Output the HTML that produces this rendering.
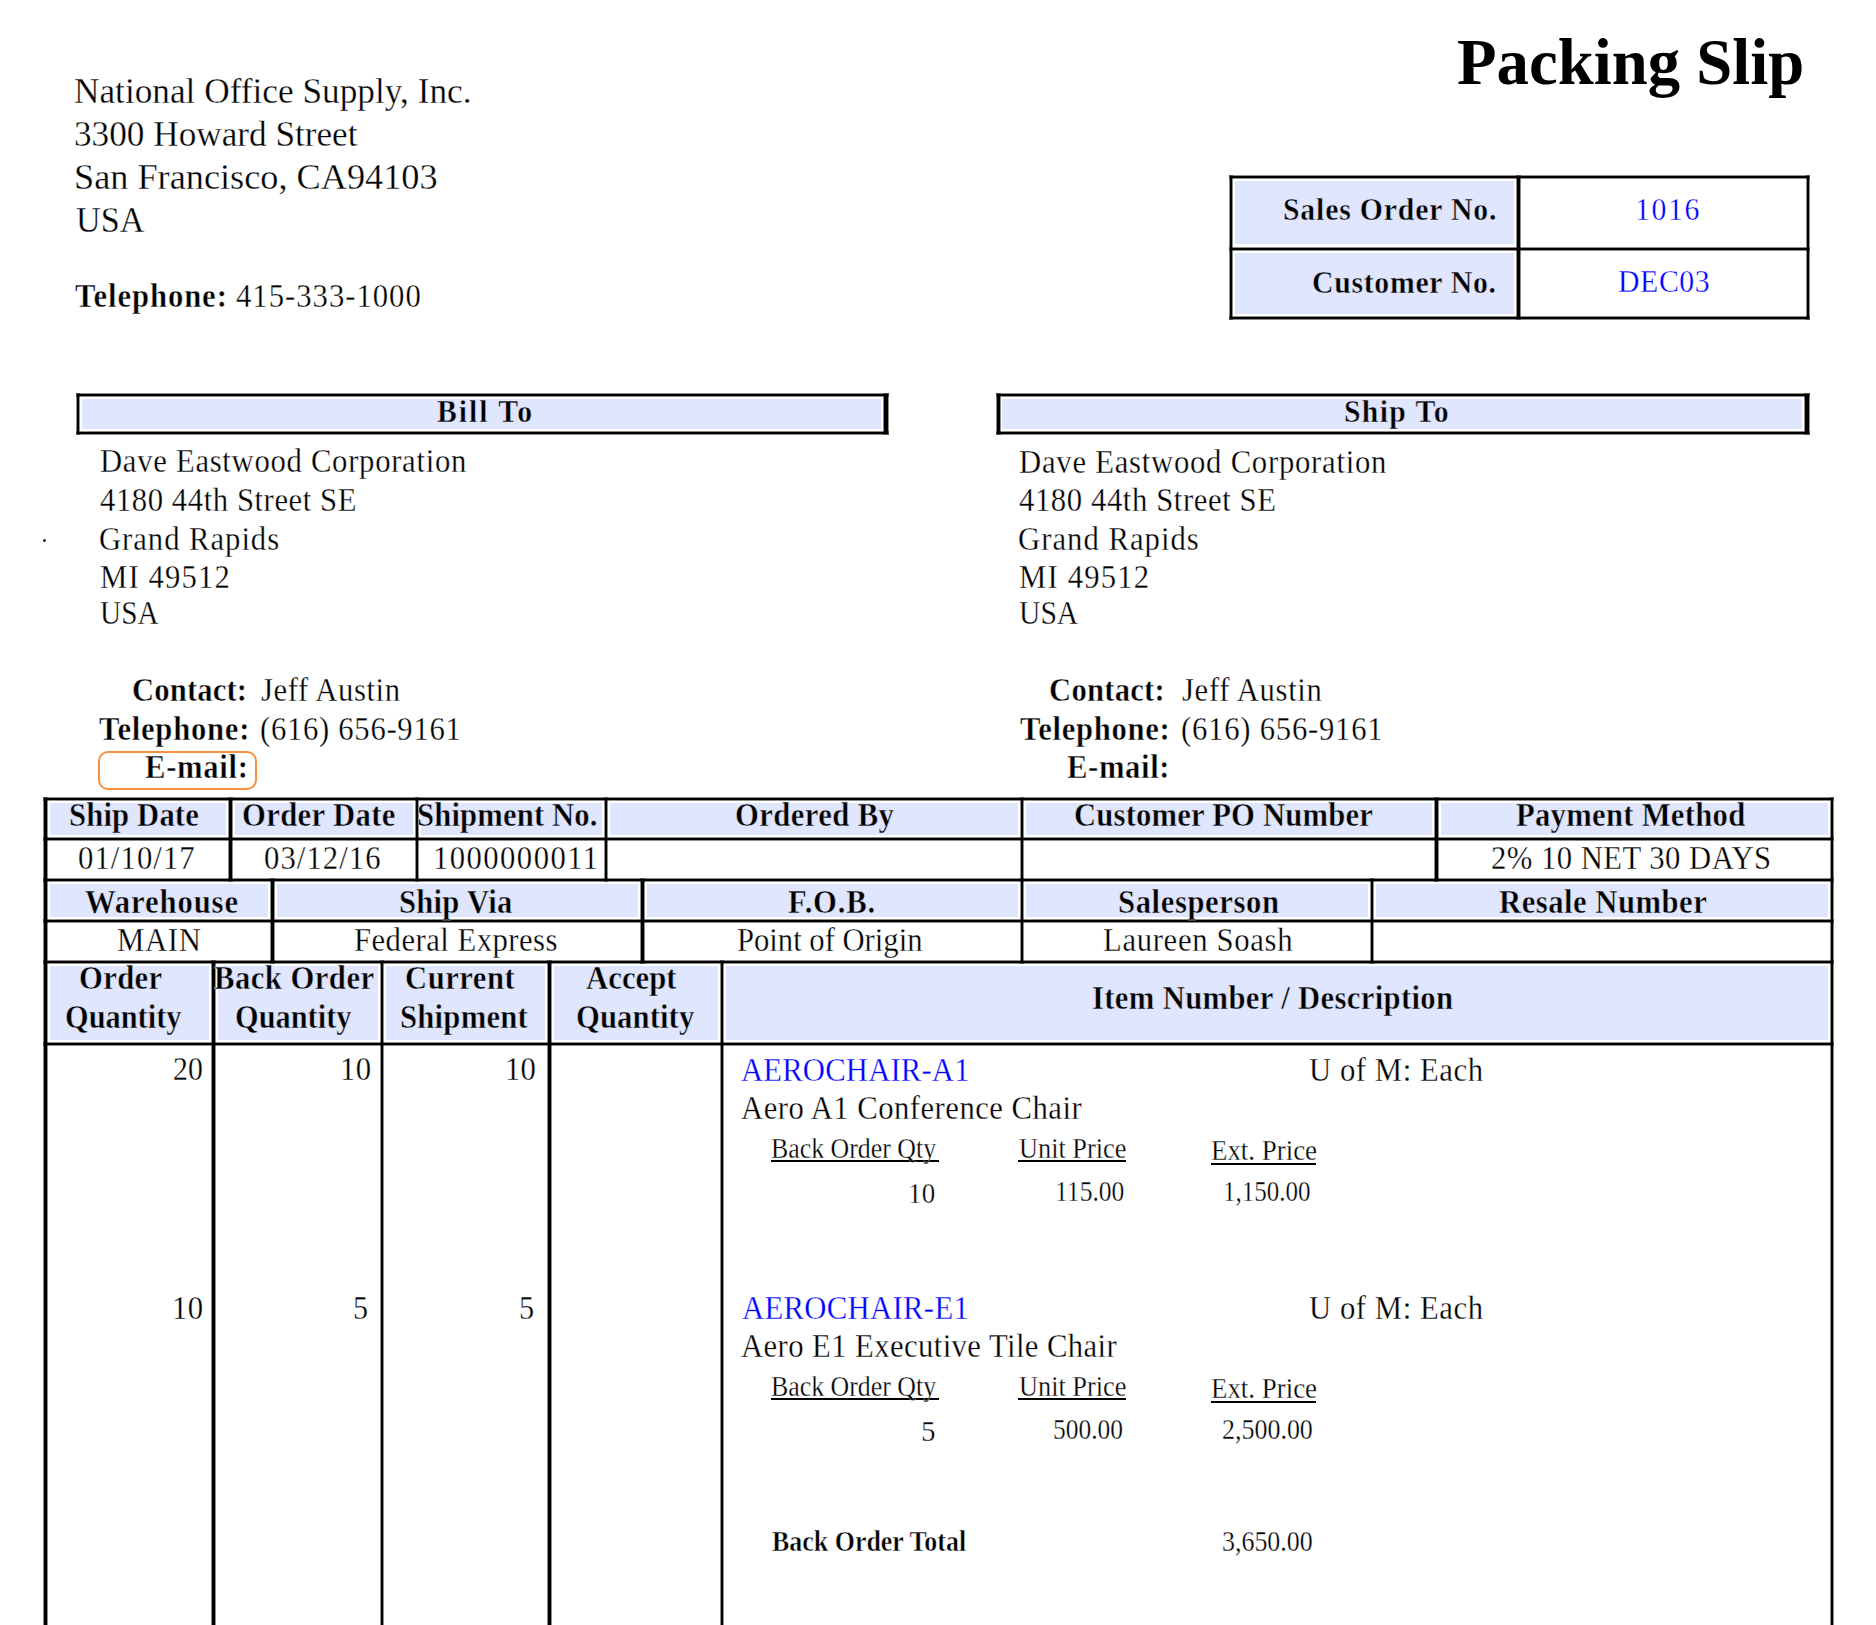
<!DOCTYPE html>
<html><head><meta charset="utf-8"><style>
html,body{margin:0;padding:0;background:#fff;}
body{width:1876px;height:1625px;position:relative;overflow:hidden;font-family:"Liberation Serif",serif;color:#000;}
.r{position:absolute;}
.t{position:absolute;white-space:pre;line-height:0;transform-origin:0 0;}
</style></head><body>
<div class="r" style="left:1235px;top:181px;width:279px;height:63px;background:#e0e6fe"></div>
<div class="r" style="left:1235px;top:253px;width:279px;height:61px;background:#e0e6fe"></div>
<div class="r" style="left:82px;top:399px;width:799px;height:30px;background:#e0e6fe"></div>
<div class="r" style="left:1002px;top:399px;width:800px;height:30px;background:#e0e6fe"></div>
<div class="r" style="left:50px;top:803px;width:176px;height:32px;background:#e0e6fe"></div>
<div class="r" style="left:235px;top:803px;width:178px;height:32px;background:#e0e6fe"></div>
<div class="r" style="left:421px;top:803px;width:181px;height:32px;background:#e0e6fe"></div>
<div class="r" style="left:610px;top:803px;width:408px;height:32px;background:#e0e6fe"></div>
<div class="r" style="left:1026px;top:803px;width:406px;height:32px;background:#e0e6fe"></div>
<div class="r" style="left:1441px;top:803px;width:387px;height:32px;background:#e0e6fe"></div>
<div class="r" style="left:50px;top:884px;width:218px;height:33px;background:#e0e6fe"></div>
<div class="r" style="left:277px;top:884px;width:361px;height:33px;background:#e0e6fe"></div>
<div class="r" style="left:647px;top:884px;width:371px;height:33px;background:#e0e6fe"></div>
<div class="r" style="left:1026px;top:884px;width:342px;height:33px;background:#e0e6fe"></div>
<div class="r" style="left:1376px;top:884px;width:452px;height:33px;background:#e0e6fe"></div>
<div class="r" style="left:50px;top:966px;width:159px;height:74px;background:#e0e6fe"></div>
<div class="r" style="left:218px;top:966px;width:160px;height:74px;background:#e0e6fe"></div>
<div class="r" style="left:386px;top:966px;width:159px;height:74px;background:#e0e6fe"></div>
<div class="r" style="left:554px;top:966px;width:164px;height:74px;background:#e0e6fe"></div>
<div class="r" style="left:726px;top:966px;width:1102px;height:74px;background:#e0e6fe"></div>
<div class="r" style="left:1230px;top:176px;width:579px;height:2px;background:#000;box-shadow:0 0 0 1px rgba(0,0,0,.45)"></div>
<div class="r" style="left:1230px;top:248px;width:579px;height:2px;background:#000;box-shadow:0 0 0 1px rgba(0,0,0,.45)"></div>
<div class="r" style="left:1230px;top:317px;width:579px;height:2px;background:#000;box-shadow:0 0 0 1px rgba(0,0,0,.45)"></div>
<div class="r" style="left:1230px;top:176px;width:2px;height:143px;background:#000;box-shadow:0 0 0 1px rgba(0,0,0,.45)"></div>
<div class="r" style="left:1517px;top:176px;width:3px;height:143px;background:#000;box-shadow:0 0 0 1px rgba(0,0,0,.45)"></div>
<div class="r" style="left:1807px;top:176px;width:2px;height:143px;background:#000;box-shadow:0 0 0 1px rgba(0,0,0,.45)"></div>
<div class="r" style="left:77px;top:394px;width:2px;height:40px;background:#000;box-shadow:0 0 0 1px rgba(0,0,0,.45)"></div>
<div class="r" style="left:77px;top:394px;width:811px;height:2px;background:#000;box-shadow:0 0 0 1px rgba(0,0,0,.45)"></div>
<div class="r" style="left:77px;top:432px;width:811px;height:2px;background:#000;box-shadow:0 0 0 1px rgba(0,0,0,.45)"></div>
<div class="r" style="left:884px;top:394px;width:4px;height:40px;background:#000;box-shadow:0 0 0 1px rgba(0,0,0,.45)"></div>
<div class="r" style="left:997px;top:394px;width:3px;height:40px;background:#000;box-shadow:0 0 0 1px rgba(0,0,0,.45)"></div>
<div class="r" style="left:997px;top:394px;width:812px;height:2px;background:#000;box-shadow:0 0 0 1px rgba(0,0,0,.45)"></div>
<div class="r" style="left:997px;top:432px;width:812px;height:2px;background:#000;box-shadow:0 0 0 1px rgba(0,0,0,.45)"></div>
<div class="r" style="left:1805px;top:394px;width:4px;height:40px;background:#000;box-shadow:0 0 0 1px rgba(0,0,0,.45)"></div>
<div class="r" style="left:44px;top:798px;width:1789px;height:2px;background:#000;box-shadow:0 0 0 1px rgba(0,0,0,.45)"></div>
<div class="r" style="left:44px;top:838px;width:1789px;height:2px;background:#000;box-shadow:0 0 0 1px rgba(0,0,0,.45)"></div>
<div class="r" style="left:44px;top:879px;width:1789px;height:2px;background:#000;box-shadow:0 0 0 1px rgba(0,0,0,.45)"></div>
<div class="r" style="left:44px;top:920px;width:1789px;height:2px;background:#000;box-shadow:0 0 0 1px rgba(0,0,0,.45)"></div>
<div class="r" style="left:44px;top:961px;width:1789px;height:2px;background:#000;box-shadow:0 0 0 1px rgba(0,0,0,.45)"></div>
<div class="r" style="left:44px;top:1043px;width:1789px;height:2px;background:#000;box-shadow:0 0 0 1px rgba(0,0,0,.45)"></div>
<div class="r" style="left:44px;top:798px;width:3px;height:830px;background:#000;box-shadow:0 0 0 1px rgba(0,0,0,.45)"></div>
<div class="r" style="left:1831px;top:798px;width:2px;height:830px;background:#000;box-shadow:0 0 0 1px rgba(0,0,0,.45)"></div>
<div class="r" style="left:229px;top:798px;width:3px;height:83px;background:#000;box-shadow:0 0 0 1px rgba(0,0,0,.45)"></div>
<div class="r" style="left:416px;top:798px;width:2px;height:83px;background:#000;box-shadow:0 0 0 1px rgba(0,0,0,.45)"></div>
<div class="r" style="left:605px;top:798px;width:2px;height:83px;background:#000;box-shadow:0 0 0 1px rgba(0,0,0,.45)"></div>
<div class="r" style="left:1021px;top:798px;width:2px;height:83px;background:#000;box-shadow:0 0 0 1px rgba(0,0,0,.45)"></div>
<div class="r" style="left:1435px;top:798px;width:3px;height:83px;background:#000;box-shadow:0 0 0 1px rgba(0,0,0,.45)"></div>
<div class="r" style="left:271px;top:879px;width:3px;height:84px;background:#000;box-shadow:0 0 0 1px rgba(0,0,0,.45)"></div>
<div class="r" style="left:641px;top:879px;width:3px;height:84px;background:#000;box-shadow:0 0 0 1px rgba(0,0,0,.45)"></div>
<div class="r" style="left:1021px;top:879px;width:2px;height:84px;background:#000;box-shadow:0 0 0 1px rgba(0,0,0,.45)"></div>
<div class="r" style="left:1371px;top:879px;width:2px;height:84px;background:#000;box-shadow:0 0 0 1px rgba(0,0,0,.45)"></div>
<div class="r" style="left:212px;top:961px;width:3px;height:670px;background:#000;box-shadow:0 0 0 1px rgba(0,0,0,.45)"></div>
<div class="r" style="left:381px;top:961px;width:2px;height:670px;background:#000;box-shadow:0 0 0 1px rgba(0,0,0,.45)"></div>
<div class="r" style="left:548px;top:961px;width:3px;height:670px;background:#000;box-shadow:0 0 0 1px rgba(0,0,0,.45)"></div>
<div class="r" style="left:721px;top:961px;width:2px;height:670px;background:#000;box-shadow:0 0 0 1px rgba(0,0,0,.45)"></div>
<div class="r" style="left:771px;top:1160px;width:168px;height:2px;background:#000"></div>
<div class="r" style="left:1018px;top:1160px;width:108px;height:2px;background:#000"></div>
<div class="r" style="left:1211px;top:1163px;width:105px;height:2px;background:#000"></div>
<div class="r" style="left:771px;top:1398px;width:168px;height:2px;background:#000"></div>
<div class="r" style="left:1018px;top:1398px;width:108px;height:2px;background:#000"></div>
<div class="r" style="left:1211px;top:1401px;width:105px;height:2px;background:#000"></div>
<div style="position:absolute;left:98px;top:751px;width:155px;height:35px;border:2px solid #f8913f;border-radius:10px"></div>
<div style="position:absolute;left:43px;top:539px;width:3px;height:3px;border-radius:50%;background:#222"></div>
<div class="t" style="left:74.39px;top:92px;font-size:35px;-webkit-text-stroke:0.3px #fff;transform:scaleX(1.0072);">National Office Supply, Inc.</div>
<div class="t" style="left:74.39px;top:135px;font-size:35px;-webkit-text-stroke:0.3px #fff;transform:scaleX(1.0058);">3300 Howard Street</div>
<div class="t" style="left:73.93px;top:178px;font-size:35px;-webkit-text-stroke:0.3px #fff;transform:scaleX(1.0360);">San Francisco, CA94103</div>
<div class="t" style="left:76.00px;top:221px;font-size:35px;-webkit-text-stroke:0.3px #fff;transform:scaleX(0.9754);">USA</div>
<div class="t" style="left:74.50px;top:296px;font-size:33px;font-weight:bold;-webkit-text-stroke:0.45px #fff;letter-spacing:0.960px;transform:scaleX(0.9300);">Telephone:</div>
<div class="t" style="left:235.70px;top:296px;font-size:33px;-webkit-text-stroke:0.3px #fff;letter-spacing:1.063px;transform:scaleX(0.9300);">415-333-1000</div>
<div class="t" style="left:1457.12px;top:62px;font-size:66px;font-weight:bold;transform:scaleX(0.9808);">Packing Slip</div>
<div class="t" style="left:1282.57px;top:209px;font-size:32px;font-weight:bold;-webkit-text-stroke:0.45px #e0e6fe;letter-spacing:0.880px;transform:scaleX(0.9300);">Sales Order No.</div>
<div class="t" style="left:1634.74px;top:209px;font-size:32px;color:#0000ff;-webkit-text-stroke:0.3px #fff;letter-spacing:1.699px;transform:scaleX(0.9300);">1016</div>
<div class="t" style="left:1311.97px;top:282px;font-size:32px;font-weight:bold;-webkit-text-stroke:0.45px #e0e6fe;letter-spacing:0.751px;transform:scaleX(0.9300);">Customer No.</div>
<div class="t" style="left:1618.20px;top:281px;font-size:32px;color:#0000ff;-webkit-text-stroke:0.3px #fff;letter-spacing:0.659px;transform:scaleX(0.9300);">DEC03</div>
<div class="t" style="left:436.80px;top:411px;font-size:32px;font-weight:bold;-webkit-text-stroke:0.45px #e0e6fe;letter-spacing:2.086px;transform:scaleX(0.9300);">Bill To</div>
<div class="t" style="left:1344.37px;top:411px;font-size:32px;font-weight:bold;-webkit-text-stroke:0.45px #e0e6fe;letter-spacing:1.416px;transform:scaleX(0.9300);">Ship To</div>
<div class="t" style="left:99.60px;top:461px;font-size:33px;-webkit-text-stroke:0.3px #fff;letter-spacing:0.754px;transform:scaleX(0.9300);">Dave Eastwood Corporation</div>
<div class="t" style="left:99.60px;top:500px;font-size:33px;-webkit-text-stroke:0.3px #fff;letter-spacing:0.604px;transform:scaleX(0.9300);">4180 44th Street SE</div>
<div class="t" style="left:98.67px;top:539px;font-size:33px;-webkit-text-stroke:0.3px #fff;letter-spacing:1.026px;transform:scaleX(0.9300);">Grand Rapids</div>
<div class="t" style="left:99.60px;top:577px;font-size:33px;-webkit-text-stroke:0.3px #fff;letter-spacing:1.212px;transform:scaleX(0.9300);">MI 49512</div>
<div class="t" style="left:99.60px;top:613px;font-size:33px;-webkit-text-stroke:0.3px #fff;letter-spacing:0.000px;transform:scaleX(0.8869);">USA</div>
<div class="t" style="left:131.67px;top:690px;font-size:33px;font-weight:bold;-webkit-text-stroke:0.45px #fff;letter-spacing:0.135px;transform:scaleX(0.9300);">Contact:</div>
<div class="t" style="left:260.50px;top:690px;font-size:33px;-webkit-text-stroke:0.3px #fff;letter-spacing:0.623px;transform:scaleX(0.9300);">Jeff Austin</div>
<div class="t" style="left:99.40px;top:729px;font-size:33px;font-weight:bold;-webkit-text-stroke:0.45px #fff;letter-spacing:0.793px;transform:scaleX(0.9300);">Telephone:</div>
<div class="t" style="left:259.57px;top:729px;font-size:33px;-webkit-text-stroke:0.3px #fff;letter-spacing:0.748px;transform:scaleX(0.9300);">(616) 656-9161</div>
<div class="t" style="left:145.00px;top:767px;font-size:33px;font-weight:bold;-webkit-text-stroke:0.45px #fff;letter-spacing:0.713px;transform:scaleX(0.9300);">E-mail:</div>
<div class="t" style="left:1019.00px;top:462px;font-size:33px;-webkit-text-stroke:0.3px #fff;letter-spacing:0.807px;transform:scaleX(0.9300);">Dave Eastwood Corporation</div>
<div class="t" style="left:1019.00px;top:500px;font-size:33px;-webkit-text-stroke:0.3px #fff;letter-spacing:0.634px;transform:scaleX(0.9300);">4180 44th Street SE</div>
<div class="t" style="left:1018.07px;top:539px;font-size:33px;-webkit-text-stroke:0.3px #fff;letter-spacing:1.084px;transform:scaleX(0.9300);">Grand Rapids</div>
<div class="t" style="left:1019.00px;top:577px;font-size:33px;-webkit-text-stroke:0.3px #fff;letter-spacing:1.273px;transform:scaleX(0.9300);">MI 49512</div>
<div class="t" style="left:1019.00px;top:613px;font-size:33px;-webkit-text-stroke:0.3px #fff;letter-spacing:0.000px;transform:scaleX(0.8975);">USA</div>
<div class="t" style="left:1049.47px;top:690px;font-size:33px;font-weight:bold;-webkit-text-stroke:0.45px #fff;letter-spacing:0.242px;transform:scaleX(0.9300);">Contact:</div>
<div class="t" style="left:1182.40px;top:690px;font-size:33px;-webkit-text-stroke:0.3px #fff;letter-spacing:0.709px;transform:scaleX(0.9300);">Jeff Austin</div>
<div class="t" style="left:1020.10px;top:729px;font-size:33px;font-weight:bold;-webkit-text-stroke:0.45px #fff;letter-spacing:0.697px;transform:scaleX(0.9300);">Telephone:</div>
<div class="t" style="left:1181.47px;top:729px;font-size:33px;-webkit-text-stroke:0.3px #fff;letter-spacing:0.814px;transform:scaleX(0.9300);">(616) 656-9161</div>
<div class="t" style="left:1067.20px;top:767px;font-size:33px;font-weight:bold;-webkit-text-stroke:0.45px #fff;letter-spacing:0.659px;transform:scaleX(0.9300);">E-mail:</div>
<div class="t" style="left:69.07px;top:815px;font-size:33px;font-weight:bold;-webkit-text-stroke:0.45px #e0e6fe;letter-spacing:0.145px;transform:scaleX(0.9300);">Ship Date</div>
<div class="t" style="left:242.47px;top:815px;font-size:33px;font-weight:bold;-webkit-text-stroke:0.45px #e0e6fe;letter-spacing:0.371px;transform:scaleX(0.9300);">Order Date</div>
<div class="t" style="left:417.37px;top:815px;font-size:33px;font-weight:bold;-webkit-text-stroke:0.45px #e0e6fe;letter-spacing:0.140px;transform:scaleX(0.9300);">Shipment No.</div>
<div class="t" style="left:734.57px;top:815px;font-size:33px;font-weight:bold;-webkit-text-stroke:0.45px #e0e6fe;letter-spacing:0.423px;transform:scaleX(0.9300);">Ordered By</div>
<div class="t" style="left:1074.37px;top:815px;font-size:33px;font-weight:bold;-webkit-text-stroke:0.45px #e0e6fe;letter-spacing:0.184px;transform:scaleX(0.9300);">Customer PO Number</div>
<div class="t" style="left:1515.70px;top:815px;font-size:33px;font-weight:bold;-webkit-text-stroke:0.45px #e0e6fe;letter-spacing:0.277px;transform:scaleX(0.9300);">Payment Method</div>
<div class="t" style="left:78.07px;top:858px;font-size:33px;-webkit-text-stroke:0.3px #fff;letter-spacing:1.163px;transform:scaleX(0.9300);">01/10/17</div>
<div class="t" style="left:263.57px;top:858px;font-size:33px;-webkit-text-stroke:0.3px #fff;letter-spacing:1.148px;transform:scaleX(0.9300);">03/12/16</div>
<div class="t" style="left:432.94px;top:858px;font-size:33px;-webkit-text-stroke:0.3px #fff;letter-spacing:1.535px;transform:scaleX(0.9300);">1000000011</div>
<div class="t" style="left:1491.07px;top:858px;font-size:33px;-webkit-text-stroke:0.3px #fff;letter-spacing:0.491px;transform:scaleX(0.9300);">2% 10 NET 30 DAYS</div>
<div class="t" style="left:85.00px;top:902px;font-size:33px;font-weight:bold;-webkit-text-stroke:0.45px #e0e6fe;letter-spacing:0.931px;transform:scaleX(0.9300);">Warehouse</div>
<div class="t" style="left:398.57px;top:902px;font-size:33px;font-weight:bold;-webkit-text-stroke:0.45px #e0e6fe;letter-spacing:0.230px;transform:scaleX(0.9300);">Ship Via</div>
<div class="t" style="left:788.40px;top:902px;font-size:33px;font-weight:bold;-webkit-text-stroke:0.45px #e0e6fe;letter-spacing:0.812px;transform:scaleX(0.9300);">F.O.B.</div>
<div class="t" style="left:1117.57px;top:902px;font-size:33px;font-weight:bold;-webkit-text-stroke:0.45px #e0e6fe;letter-spacing:0.633px;transform:scaleX(0.9300);">Salesperson</div>
<div class="t" style="left:1498.50px;top:902px;font-size:33px;font-weight:bold;-webkit-text-stroke:0.45px #e0e6fe;letter-spacing:0.520px;transform:scaleX(0.9300);">Resale Number</div>
<div class="t" style="left:117.20px;top:940px;font-size:33px;-webkit-text-stroke:0.3px #fff;letter-spacing:0.756px;transform:scaleX(0.9300);">MAIN</div>
<div class="t" style="left:353.90px;top:940px;font-size:33px;-webkit-text-stroke:0.3px #fff;letter-spacing:0.501px;transform:scaleX(0.9300);">Federal Express</div>
<div class="t" style="left:737.20px;top:940px;font-size:33px;-webkit-text-stroke:0.3px #fff;letter-spacing:0.000px;transform:scaleX(0.9281);">Point of Origin</div>
<div class="t" style="left:1103.40px;top:940px;font-size:33px;-webkit-text-stroke:0.3px #fff;letter-spacing:0.718px;transform:scaleX(0.9300);">Laureen Soash</div>
<div class="t" style="left:79.27px;top:978px;font-size:33px;font-weight:bold;-webkit-text-stroke:0.45px #e0e6fe;letter-spacing:0.357px;transform:scaleX(0.9300);">Order</div>
<div class="t" style="left:64.78px;top:1017px;font-size:33px;font-weight:bold;-webkit-text-stroke:0.45px #e0e6fe;letter-spacing:0.000px;transform:scaleX(0.9205);">Quantity</div>
<div class="t" style="left:214.30px;top:978px;font-size:33px;font-weight:bold;-webkit-text-stroke:0.45px #e0e6fe;letter-spacing:0.492px;transform:scaleX(0.9300);">Back Order</div>
<div class="t" style="left:235.08px;top:1017px;font-size:33px;font-weight:bold;-webkit-text-stroke:0.45px #e0e6fe;letter-spacing:0.000px;transform:scaleX(0.9205);">Quantity</div>
<div class="t" style="left:405.47px;top:978px;font-size:33px;font-weight:bold;-webkit-text-stroke:0.45px #e0e6fe;letter-spacing:0.518px;transform:scaleX(0.9300);">Current</div>
<div class="t" style="left:400.07px;top:1017px;font-size:33px;font-weight:bold;-webkit-text-stroke:0.45px #e0e6fe;letter-spacing:0.248px;transform:scaleX(0.9300);">Shipment</div>
<div class="t" style="left:585.90px;top:978px;font-size:33px;font-weight:bold;-webkit-text-stroke:0.45px #e0e6fe;letter-spacing:0.059px;transform:scaleX(0.9300);">Accept</div>
<div class="t" style="left:575.87px;top:1017px;font-size:33px;font-weight:bold;-webkit-text-stroke:0.45px #e0e6fe;letter-spacing:0.092px;transform:scaleX(0.9300);">Quantity</div>
<div class="t" style="left:1091.67px;top:998px;font-size:33px;font-weight:bold;-webkit-text-stroke:0.45px #e0e6fe;letter-spacing:0.355px;transform:scaleX(0.9300);">Item Number / Description</div>
<div class="t" style="left:172.60px;top:1069px;font-size:33px;-webkit-text-stroke:0.3px #fff;letter-spacing:0.000px;transform:scaleX(0.9016);">20</div>
<div class="t" style="left:339.64px;top:1069px;font-size:33px;-webkit-text-stroke:0.3px #fff;letter-spacing:0.360px;transform:scaleX(0.9300);">10</div>
<div class="t" style="left:504.64px;top:1069px;font-size:33px;-webkit-text-stroke:0.3px #fff;letter-spacing:0.253px;transform:scaleX(0.9300);">10</div>
<div class="t" style="left:741.00px;top:1070px;font-size:33px;color:#0000ff;-webkit-text-stroke:0.3px #fff;letter-spacing:0.170px;transform:scaleX(0.9300);">AEROCHAIR-A1</div>
<div class="t" style="left:1309.20px;top:1070px;font-size:33px;-webkit-text-stroke:0.3px #fff;letter-spacing:0.600px;transform:scaleX(0.9300);">U of M: Each</div>
<div class="t" style="left:741.00px;top:1108px;font-size:33px;-webkit-text-stroke:0.3px #fff;letter-spacing:0.505px;transform:scaleX(0.9300);">Aero A1 Conference Chair</div>
<div class="t" style="left:770.70px;top:1148px;font-size:29px;-webkit-text-stroke:0.3px #fff;letter-spacing:0.000px;transform:scaleX(0.8912);">Back Order Qty</div>
<div class="t" style="left:1018.70px;top:1148px;font-size:29px;-webkit-text-stroke:0.3px #fff;letter-spacing:0.000px;transform:scaleX(0.9071);">Unit Price</div>
<div class="t" style="left:1210.60px;top:1150px;font-size:29px;-webkit-text-stroke:0.3px #fff;letter-spacing:0.000px;transform:scaleX(0.9270);">Ext. Price</div>
<div class="t" style="left:907.74px;top:1193px;font-size:29px;-webkit-text-stroke:0.3px #fff;letter-spacing:0.274px;transform:scaleX(0.9300);">10</div>
<div class="t" style="left:1054.94px;top:1191px;font-size:29px;-webkit-text-stroke:0.3px #fff;letter-spacing:0.000px;transform:scaleX(0.8822);">115.00</div>
<div class="t" style="left:1223.48px;top:1191px;font-size:29px;-webkit-text-stroke:0.3px #fff;letter-spacing:0.000px;transform:scaleX(0.8616);">1,150.00</div>
<div class="t" style="left:171.64px;top:1308px;font-size:33px;-webkit-text-stroke:0.3px #fff;letter-spacing:0.360px;transform:scaleX(0.9300);">10</div>
<div class="t" style="left:352.59px;top:1308px;font-size:33px;-webkit-text-stroke:0.3px #fff;transform:scaleX(0.9133);">5</div>
<div class="t" style="left:518.68px;top:1308px;font-size:33px;-webkit-text-stroke:0.3px #fff;transform:scaleX(0.9200);">5</div>
<div class="t" style="left:741.60px;top:1308px;font-size:33px;color:#0000ff;-webkit-text-stroke:0.3px #fff;letter-spacing:0.338px;transform:scaleX(0.9300);">AEROCHAIR-E1</div>
<div class="t" style="left:1309.20px;top:1308px;font-size:33px;-webkit-text-stroke:0.3px #fff;letter-spacing:0.600px;transform:scaleX(0.9300);">U of M: Each</div>
<div class="t" style="left:741.00px;top:1346px;font-size:33px;-webkit-text-stroke:0.3px #fff;letter-spacing:0.435px;transform:scaleX(0.9300);">Aero E1 Executive Tile Chair</div>
<div class="t" style="left:770.70px;top:1386px;font-size:29px;-webkit-text-stroke:0.3px #fff;letter-spacing:0.000px;transform:scaleX(0.8912);">Back Order Qty</div>
<div class="t" style="left:1018.70px;top:1386px;font-size:29px;-webkit-text-stroke:0.3px #fff;letter-spacing:0.000px;transform:scaleX(0.9071);">Unit Price</div>
<div class="t" style="left:1210.60px;top:1388px;font-size:29px;-webkit-text-stroke:0.3px #fff;letter-spacing:0.000px;transform:scaleX(0.9270);">Ext. Price</div>
<div class="t" style="left:921.00px;top:1431px;font-size:29px;-webkit-text-stroke:0.3px #fff;">5</div>
<div class="t" style="left:1052.52px;top:1429px;font-size:29px;-webkit-text-stroke:0.3px #fff;letter-spacing:0.000px;transform:scaleX(0.8767);">500.00</div>
<div class="t" style="left:1222.01px;top:1429px;font-size:29px;-webkit-text-stroke:0.3px #fff;letter-spacing:0.000px;transform:scaleX(0.8950);">2,500.00</div>
<div class="t" style="left:772.00px;top:1541px;font-size:29px;font-weight:bold;-webkit-text-stroke:0.45px #fff;letter-spacing:0.000px;transform:scaleX(0.8946);">Back Order Total</div>
<div class="t" style="left:1222.11px;top:1541px;font-size:29px;-webkit-text-stroke:0.3px #fff;letter-spacing:0.000px;transform:scaleX(0.8940);">3,650.00</div>
</body></html>
